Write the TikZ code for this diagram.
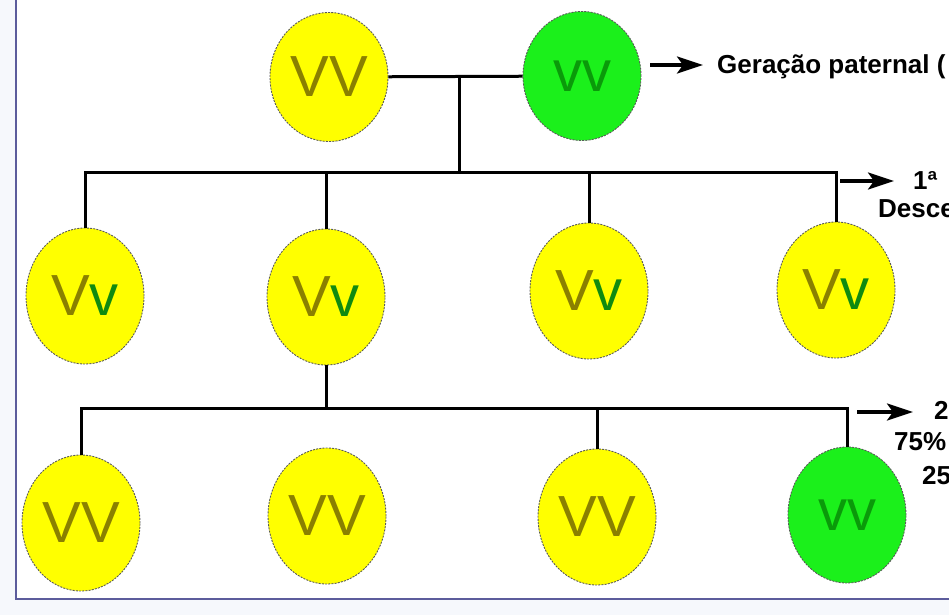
\documentclass[tikz,border=0pt]{standalone}
\usepackage{fontspec}
\setmainfont{Liberation Sans}
\usepackage{xcolor}
\usetikzlibrary{arrows.meta,positioning,shapes.geometric,calc}

\definecolor{eggyellow}{HTML}{FFFF00}
\definecolor{egggreen}{HTML}{1BF01B}
\definecolor{alleleV}{HTML}{8A8000}
\definecolor{allelev}{HTML}{108A10}
\definecolor{alleleg}{HTML}{0A9A0A}
\definecolor{frameblue}{HTML}{5C5C9C}
\definecolor{paleblue}{HTML}{F6F8FC}

\begin{document}
\begin{tikzpicture}[
    >=Stealth, x=1pt, y=-1pt,
    egg/.style={ellipse, draw=black!65, dash pattern=on 2pt off 1.2pt, line width=0.9pt, fill=#1,
                minimum width=118pt, minimum height=136pt, inner sep=0pt, font=\fontsize{58pt}{60pt}\selectfont},
    bar/.style={line width=3pt},
    flow/.style={-{Stealth[length=26pt,width=17pt,inset=6pt]}, line width=3.5pt},
    note/.style={anchor=base west, inner sep=0pt, font=\bfseries\fontsize{26pt}{28pt}\selectfont}
]

% ===== FRAME =====
\path[use as bounding box] (0,0) rectangle (949,615);
\clip (0,0) rectangle (949,615);
\fill[paleblue] (0,0) rectangle (16,615);
\fill[paleblue] (16,599) rectangle (949,615);
\draw[frameblue, line width=2pt] (16,0) -- (16,599) -- (949,599);

% ===== GERACAO PATERNAL =====
\node[egg=eggyellow, minimum height=129pt] (P1) at (329,77) {\textcolor{alleleV}{VV}};
\node[egg=egggreen,  minimum height=129pt] (P2) at (582,76) {\textcolor{alleleg}{vv}};

% ===== 1a DESCENDENCIA =====
\foreach \n/\x/\y in {1/85/296, 2/326/297, 3/589/291, 4/836/290}
  \node[egg=eggyellow] (F\n) at (\x,\y) {\textcolor{alleleV}{V}\textcolor{allelev}{v}};

% ===== 2a DESCENDENCIA =====
\foreach \n/\x/\y in {1/81/523, 2/327/516, 3/597/517}
  \node[egg=eggyellow] (G\n) at (\x,\y) {\textcolor{alleleV}{VV}};
\node[egg=egggreen] (G4) at (847,515) {\textcolor{alleleg}{vv}};

% ===== LABELS =====
\node[note] (lblP)  at (717,74)  {Geração paternal (};
\node[note] (lbl1a) at (913,189) {1ª};
\node[note] (lbl1b) at (878,217) {Desce};
\node[note] (lbl2a) at (934,419) {2};
\node[note] (lbl2b) at (894,450) {75\%};
\node[note] (lbl2c) at (922,484) {25};

% ===== CRUZAMENTO =====
\coordinate (J0) at (459,76);
\coordinate (B1) at (0,172);
\coordinate (B2) at (0,408);
\draw[bar] (P1) -- (P2);
\draw[bar] (J0) -- (J0 |- B1);
\draw[bar] (F1.north) -- (F1.north |- B1) -- (F4.north |- B1) -- (F4.north);
\draw[bar] (F2.north) -- (F2.north |- B1);
\draw[bar] (F3.north) -- (F3.north |- B1);

% ===== AUTOFECUNDACAO =====
\draw[bar] (F2.south) -- (F2.south |- B2);
\draw[bar] (G1.north) -- (G1.north |- B2) -- (G4.north |- B2) -- (G4.north);
\draw[bar] (G3.north) -- (G3.north |- B2);

% ===== ARROWS =====
\coordinate (a0) at (650,65);
\coordinate (a1) at (840,181);
\coordinate (a2) at (857,412);
\draw[flow, shorten >=14pt] (a0) -- (a0 -| lblP.west);
\draw[flow, shorten >=19pt] (a1) -- (a1 -| lbl1a.west);
\draw[flow, shorten >=21pt] (a2) -- (a2 -| lbl2a.west);

\end{tikzpicture}
\end{document}
